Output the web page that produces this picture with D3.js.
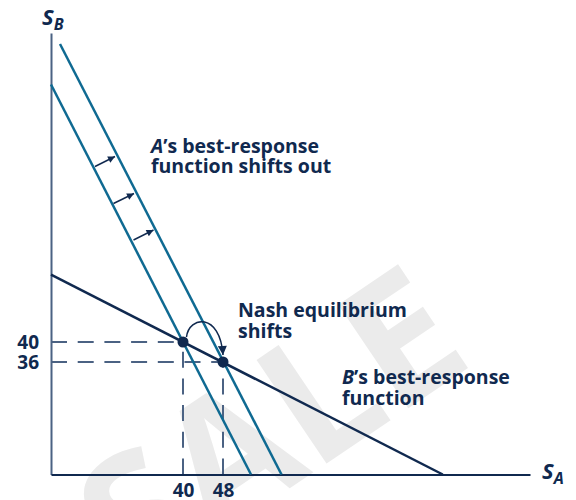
<!DOCTYPE html>
<html>
<head>
<meta charset="utf-8">
<script src="https://cdn.jsdelivr.net/npm/d3@7"></script>
<style>
body { margin: 0; background: #fff; }
text { font-family: 'Open Sans', sans-serif; font-weight: 700; fill: #10294f; }
</style>
</head>
<body>
<div id="chart"></div>
<script>
const w = 576
const h = 500
const navy = '#10294f'
const teal = '#0f6a92'
const slate = '#4b6283'

// tick values and equilibrium points
const xTicks = [40, 48]
const yTicks = [40, 36]
const equilibria = [[40, 40], [48, 36]]

// best-response lines (end points, in chart units)
const bResponse = [[13.6, 53.46], [91.96, 13.5]]
const aResponse = [[13.6, 91.5], [53.6, 13.5]]
const aShifted = [[15.4, 99.6], [59.7, 13.5]]

// small arrows showing the outward shift [x0, y0, x1, y1]
const shiftArrows = [
    [22.4, 75.1, 26.4, 77.1],
    [26.1, 67.7, 30.2, 69.7],
    [30.1, 60.4, 34.1, 62.4]
]

const xScale = d3.scaleLinear()
    .domain([13.6, 109.4])
    .range([51, 530])

const yScale = d3.scaleLinear()
    .domain([13.5, 101.8])
    .range([474.5, 33])

const svg = d3.select('#chart')
    .append('svg')
    .attr('width', w)
    .attr('height', h)

const defs = svg.append('defs')
defs.append('marker')
    .attr('id', 'head')
    .attr('viewBox', '0 0 10 10')
    .attr('refX', 10)
    .attr('refY', 5)
    .attr('markerWidth', 8)
    .attr('markerHeight', 7)
    .attr('markerUnits', 'userSpaceOnUse')
    .attr('orient', 'auto')
    .append('path')
    .attr('d', 'M0,0 L10,5 L0,10 z')
    .attr('fill', navy)

defs.append('marker')
    .attr('id', 'head2')
    .attr('viewBox', '0 0 10 10')
    .attr('refX', 10)
    .attr('refY', 5)
    .attr('markerWidth', 10)
    .attr('markerHeight', 9)
    .attr('markerUnits', 'userSpaceOnUse')
    .attr('orient', 'auto')
    .append('path')
    .attr('d', 'M0,0 L10,5 L0,10 z')
    .attr('fill', navy)

// watermark
svg.append('text')
    .attr('transform', 'translate(305,478) rotate(-34)')
    .attr('text-anchor', 'middle')
    .style('font-size', '175px')
    .style('fill', '#ebebeb')
    .text('SALE')

// dashed guides
const dashes = svg.append('g')
    .attr('stroke', slate)
    .attr('stroke-width', 2)
    .attr('stroke-dasharray', '16 10.7')
    .attr('fill', 'none')

equilibria.forEach(d => {
    dashes.append('line')
        .attr('x1', xScale.range()[0]).attr('y1', yScale(d[1]))
        .attr('x2', xScale(d[0])).attr('y2', yScale(d[1]))
    dashes.append('line')
        .attr('x1', xScale(d[0])).attr('y1', yScale.range()[0])
        .attr('x2', xScale(d[0])).attr('y2', yScale(d[1]))
})

// axes
const yAxis = d3.axisLeft(yScale)
    .tickValues(yTicks)
    .tickSize(0)
    .tickSizeOuter(0)
    .tickPadding(12)

const xAxis = d3.axisBottom(xScale)
    .tickValues(xTicks)
    .tickSize(0)
    .tickSizeOuter(0)
    .tickPadding(9)

const gy = svg.append('g')
    .attr('transform', `translate(${xScale.range()[0]},0)`)
    .call(yAxis)
gy.select('.domain').attr('stroke', slate).attr('stroke-width', 2)

const gx = svg.append('g')
    .attr('transform', `translate(0,${yScale.range()[0]})`)
    .call(xAxis)
gx.select('.domain').attr('stroke', navy).attr('stroke-width', 2)

svg.selectAll('.tick text')
    .attr('font-family', null)
    .attr('font-size', null)
    .style('font-size', '19px')
    .style('fill', navy)

// lines
const line = d3.line()
    .x(d => xScale(d[0]))
    .y(d => yScale(d[1]))

svg.append('path')
    .datum(aResponse)
    .attr('d', line)
    .attr('fill', 'none')
    .attr('stroke', teal)
    .attr('stroke-width', 2.5)

svg.append('path')
    .datum(aShifted)
    .attr('d', line)
    .attr('fill', 'none')
    .attr('stroke', teal)
    .attr('stroke-width', 2.5)

svg.append('path')
    .datum(bResponse)
    .attr('d', line)
    .attr('fill', 'none')
    .attr('stroke', navy)
    .attr('stroke-width', 2.5)

// shift arrows
svg.selectAll('.shift')
    .data(shiftArrows)
    .enter()
    .append('line')
    .attr('class', 'shift')
    .attr('x1', d => xScale(d[0]))
    .attr('y1', d => yScale(d[1]))
    .attr('x2', d => xScale(d[2]))
    .attr('y2', d => yScale(d[3]))
    .attr('stroke', navy)
    .attr('stroke-width', 1.5)
    .attr('marker-end', 'url(#head)')

// curved arrow between equilibria
const p1 = [xScale(equilibria[0][0]), yScale(equilibria[0][1])]
const p2 = [xScale(equilibria[1][0]), yScale(equilibria[1][1])]
const arc = d3.path()
arc.moveTo(p1[0] + 3.5, p1[1] - 5)
arc.bezierCurveTo(p1[0] + 6, p1[1] - 26, p2[0] - 3, p2[1] - 50, p2[0], p2[1] - 7)
svg.append('path')
    .attr('d', arc.toString())
    .attr('fill', 'none')
    .attr('stroke', navy)
    .attr('stroke-width', 1.5)
    .attr('marker-end', 'url(#head2)')

// equilibrium dots
svg.selectAll('.eq')
    .data(equilibria)
    .enter()
    .append('circle')
    .attr('class', 'eq')
    .attr('cx', d => xScale(d[0]))
    .attr('cy', d => yScale(d[1]))
    .attr('r', 5.5)
    .attr('fill', navy)

// labels
const label = (x, y, parts) => {
    const t = svg.append('text')
        .attr('x', x)
        .attr('y', y)
        .style('font-size', '19.5px')
    parts.forEach(p => {
        t.append('tspan')
            .style('font-style', p[1] ? 'italic' : 'normal')
            .text(p[0])
    })
}

label(151, 153, [['A', true], ['’s best-response']])
label(151, 173, [['function shifts out']])
label(238, 317, [['Nash equilibrium']])
label(238, 338, [['shifts']])
label(342, 384, [['B', true], ['’s best-response']])
label(342, 405, [['function']])

// axis titles
const axisTitle = (x, y, main, sub) => {
    const t = svg.append('text')
        .attr('x', x)
        .attr('y', y)
        .style('font-style', 'italic')
        .style('font-size', '22px')
    t.append('tspan').text(main)
    t.append('tspan')
        .attr('dy', 5)
        .style('font-size', '16px')
        .text(sub)
}

axisTitle(42, 25, 'S', 'B')
axisTitle(542, 479, 'S', 'A')
</script>
</body>
</html>
